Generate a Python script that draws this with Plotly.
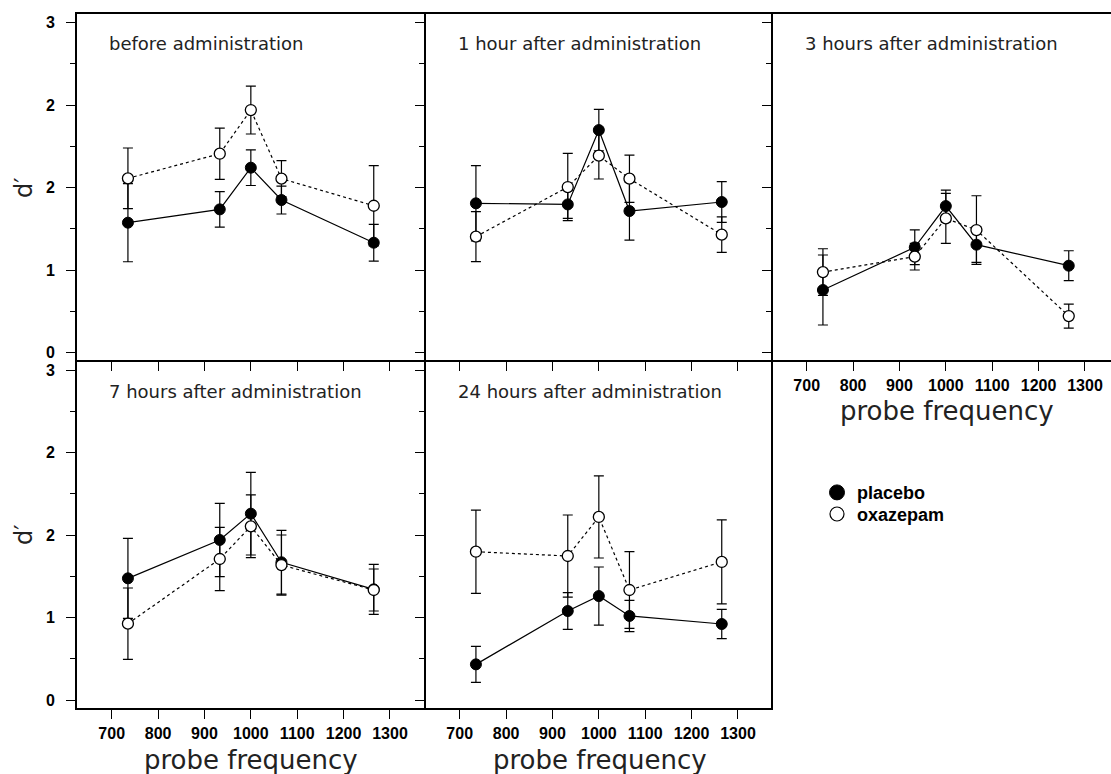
import plotly.graph_objects as go

# ---------------- data ----------------
freqs = [735, 933, 1000, 1066, 1265]
titles = [
    "before administration",
    "1 hour after administration",
    "3 hours after administration",
    "7 hours after administration",
    "24 hours after administration",
]
placebo = [
    [1.182, 1.303, 1.682, 1.388, 1.000],
    [1.358, 1.348, 2.024, 1.288, 1.370],
    [0.570, 0.958, 1.333, 0.982, 0.791],
    [1.106, 1.455, 1.694, 1.252, 1.006],
    [0.324, 0.809, 0.945, 0.764, 0.691],
]
placebo_err = [
    [0.355, 0.161, 0.162, 0.127, 0.167],
    [0.342, 0.127, 0.188, 0.264, 0.185],
    [0.318, 0.158, 0.145, 0.161, 0.136],
    [0.364, 0.333, 0.376, 0.290, 0.227],
    [0.164, 0.167, 0.264, 0.142, 0.133],
]
oxazepam = [
    [1.585, 1.809, 2.206, 1.582, 1.336],
    [1.055, 1.506, 1.791, 1.582, 1.073],
    [0.733, 0.873, 1.221, 1.115, 0.333],
    [0.694, 1.282, 1.579, 1.227, 1.000],
    [1.348, 1.309, 1.664, 1.000, 1.255],
]
oxazepam_err = [
    [0.276, 0.233, 0.218, 0.164, 0.364],
    [0.227, 0.306, 0.212, 0.215, 0.161],
    [0.212, 0.121, 0.227, 0.312, 0.109],
    [0.324, 0.288, 0.285, 0.273, 0.191],
    [0.379, 0.373, 0.373, 0.348, 0.382],
]
xtick_vals = [700, 800, 900, 1000, 1100, 1200, 1300]
ytick_vals = [0, 0.75, 1.5, 2.25, 3]
ytick_text = ["0", "1", "2", "2", "3"]
yminor_vals = [0.375, 1.125, 1.875, 2.625]
series_names = ["placebo", "oxazepam"]

# ---------------- layout geometry ----------------
W, H = 1111, 774
L, R, T, B = 77, 0, 14, 66
pw = W - L - R
ph = H - T - B
LW = 1.6
HG = LW / 2


def px_x(p):
    return (p - L) / pw


def px_y(p):
    return (H - B - p) / ph


col_px = [(77, 425 - HG), (425 + HG, 772 - HG), (772 + HG, 1111)]
row_px = [(14, 361 - HG), (361 + HG, 708)]
row_zero = [352.7, 700.0]
col_700 = [111.7, 459.7, 806.7]
panels = [(0, 0), (0, 1), (0, 2), (1, 0), (1, 1)]
xscale = 0.4638  # px per Hz
yscale = 110.0   # px per d' unit

fig = go.Figure()
layout = dict(
    width=W, height=H,
    margin=dict(l=L, r=R, t=T, b=B, pad=0),
    paper_bgcolor="white", plot_bgcolor="white",
    showlegend=True,
    font=dict(family="DejaVu Sans", color="black"),
)

tickfont = dict(family="Liberation Sans", size=16, color="black", weight="bold")
annotations = []

for i, (r, c) in enumerate(panels):
    n = "" if i == 0 else str(i + 1)
    xa, ya = "x" + n, "y" + n
    cl, cr = col_px[c]
    rt, rb = row_px[r]
    xr = [700 - (col_700[c] - cl) / xscale, 700 + (cr - col_700[c]) / xscale]
    yr = [-(rb - row_zero[r]) / yscale, (row_zero[r] - rt) / yscale]
    show_xlab = (i >= 2)
    show_ylab = (c == 0)
    layout["xaxis" + n] = dict(
        domain=[px_x(cl), px_x(cr)], range=xr, anchor=ya,
        showline=True, linecolor="black", linewidth=LW, mirror=True,
        ticks="outside", ticklen=9, tickwidth=1.3, tickcolor="black",
        tickmode="array", tickvals=xtick_vals,
        showticklabels=show_xlab, tickfont=tickfont, ticklabelstandoff=1,
        showgrid=False, zeroline=False, fixedrange=True,
    )
    layout["yaxis" + n] = dict(
        domain=[px_y(rb), px_y(rt)], range=yr, anchor=xa,
        showline=True, linecolor="black", linewidth=LW, mirror=(c != 2),
        ticks="outside", ticklen=9, tickwidth=1.3, tickcolor="black",
        tickmode="array", tickvals=ytick_vals, ticktext=ytick_text,
        minor=dict(tickmode="array", tickvals=yminor_vals, ticks="outside",
                   ticklen=5, tickwidth=1.3, tickcolor="black", showgrid=False),
        showticklabels=show_ylab, tickfont=tickfont, ticklabelstandoff=8,
        showgrid=False, zeroline=False, fixedrange=True,
    )

    fig.add_trace(go.Scatter(
        x=freqs, y=placebo[i], xaxis=xa, yaxis=ya, mode="lines+markers",
        line=dict(color="black", width=1.2),
        marker=dict(size=11, color="black", line=dict(color="black", width=1)),
        error_y=dict(type="data", array=placebo_err[i], visible=True,
                     color="black", thickness=1.2, width=5),
        showlegend=False, name=series_names[0],
    ))
    fig.add_trace(go.Scatter(
        x=freqs, y=oxazepam[i], xaxis=xa, yaxis=ya, mode="lines+markers",
        line=dict(color="black", width=1.2, dash="dot"),
        marker=dict(size=11, color="white", line=dict(color="black", width=1.3)),
        error_y=dict(type="data", array=oxazepam_err[i], visible=True,
                     color="black", thickness=1.2, width=5),
        showlegend=False, name=series_names[1],
    ))

    left = col_px[c][0]
    top = row_px[r][0]
    annotations.append(dict(
        text=titles[i], xref="paper", yref="paper",
        x=px_x(left + 30), y=px_y(top + 30), xanchor="left", yanchor="middle",
        showarrow=False, font=dict(family="DejaVu Sans", size=18, color="#222"),
    ))
    if show_xlab:
        cx = left + 174
        ty = 411 if r == 0 else 760
        annotations.append(dict(
            text="probe frequency", xref="paper", yref="paper",
            x=px_x(cx), y=px_y(ty), xanchor="center", yanchor="middle",
            showarrow=False, font=dict(family="DejaVu Sans", size=26, color="#222"),
        ))
    if show_ylab:
        annotations.append(dict(
            text="d′", xref="paper", yref="paper", textangle=-90,
            x=px_x(24), y=px_y(188 if r == 0 else 535),
            xanchor="center", yanchor="middle",
            showarrow=False, font=dict(family="DejaVu Sans", size=24, color="#222"),
        ))

# legend entries (one legend box per series for exact placement)
fig.add_trace(go.Scatter(
    x=[None], y=[None], mode="markers", name=series_names[0],
    marker=dict(size=15, color="black", line=dict(color="black", width=1)),
    xaxis="x6", yaxis="y6", legend="legend",
))
fig.add_trace(go.Scatter(
    x=[None], y=[None], mode="markers", name=series_names[1],
    marker=dict(size=14, color="white", line=dict(color="black", width=1.2)),
    xaxis="x6", yaxis="y6", legend="legend2",
))
layout["xaxis6"] = dict(domain=[px_x(773), 1], visible=False, anchor="y6")
layout["yaxis6"] = dict(domain=[0, px_y(362)], visible=False, anchor="x6")

legend_common = dict(
    xanchor="left", yanchor="middle",
    bgcolor="rgba(0,0,0,0)", borderwidth=0,
    font=dict(family="Liberation Sans", size=18, color="black", weight="bold"),
    itemsizing="trace",
)
layout["legend"] = dict(x=px_x(817), y=px_y(492.7), **legend_common)
layout["legend2"] = dict(x=px_x(817), y=px_y(514.3), **legend_common)
layout["annotations"] = annotations
fig.update_layout(**layout)

fig.write_html("out.html")
